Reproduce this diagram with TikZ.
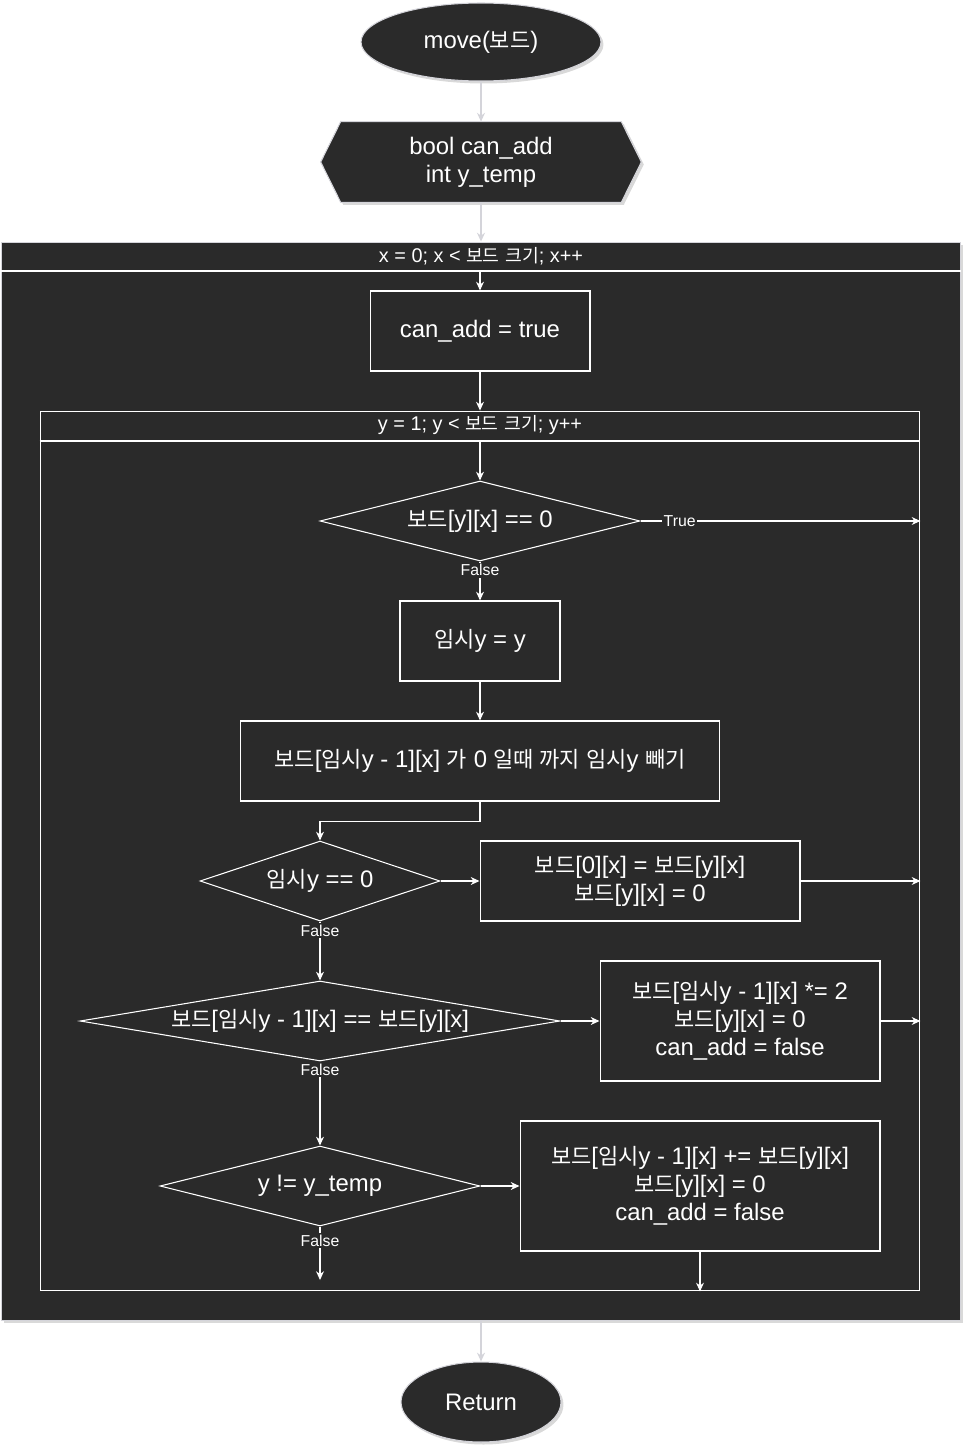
\documentclass[tikz,border=0pt]{standalone}
\usepackage{fontspec}
\setmainfont{Liberation Sans}
\newfontfamily\kr[Scale=0.92]{Noto Sans CJK KR}
\usetikzlibrary{shapes.geometric, arrows.meta, backgrounds, shadows}

\definecolor{boxfill}{HTML}{2A2A2A}
\definecolor{rim}{HTML}{D4D4DA}

\newcommand{\brd}{{\kr 보드}}
\newcommand{\ims}{{\kr 임시}}

\tikzset{
    base/.style={fill=boxfill, text=white, inner sep=0pt, align=center,
        font=\fontsize{13.6}{15.9}\selectfont},
    shade/.style={drop shadow={shadow xshift=.05cm, shadow yshift=-.05cm, opacity=.3}},
    terminal/.style={base, ellipse, draw=rim, line width=.6pt, shade},
    process/.style={base, rectangle, draw=white, line width=.6pt},
    decision/.style={base, diamond, draw=white, line width=.6pt},
    loopbox/.style={rectangle, draw=white, line width=.6pt, fill=boxfill},
    head/.style={text=white, inner sep=0pt, font=\fontsize{11.3}{13}\selectfont},
    flag/.style={fill=boxfill, text=white, inner sep=1pt, font=\fontsize{9}{10}\selectfont},
    arr/.style={draw=white, line width=.6pt, -{Stealth[length=5pt, width=4.5pt]}},
    outarr/.style={draw=rim, line width=.9pt, -{Stealth[length=5pt, width=4.5pt]}},
}

\begin{document}
\begin{tikzpicture}[x=.02cm, y=-.02cm]
    \useasboundingbox (0,0) rectangle (972,1453);

    % start and declarations
    \node[terminal, minimum width=4.8cm, minimum height=1.56cm] (start) at (481,42) {move(\brd)};
    \node[base, fill=none, minimum width=6.4cm, minimum height=1.6cm] (vars) at (481,162) {bool can\_add\\int y\_temp};
    \begin{scope}[on background layer]
        \filldraw[fill=boxfill, draw=rim, line width=.6pt, shade] (vars.west) -- ([xshift=.4cm]vars.north west) -- ([xshift=-.4cm]vars.north east)
            -- (vars.east) -- ([xshift=-.4cm]vars.south east) -- ([xshift=.4cm]vars.south west) -- cycle;
    \end{scope}

    % outer loop over x
    \node[loopbox, draw=rim, shade, minimum width=19.2cm, minimum height=21.58cm] (xloop) at (481,781.5) {};
    \node[head] (xhead) at (481,256) {x = 0; x < \brd{} {\kr 크기}; x++};
    \coordinate (xline) at (480,271);
    \draw[white, line width=.6pt] (xloop.west |- xline) -- (xloop.east |- xline);

    \node[process, minimum width=4.4cm, minimum height=1.6cm] (canadd) at (480,331) {can\_add = true};

    % inner loop over y
    \node[loopbox, minimum width=17.6cm, minimum height=17.6cm] (yloop) at (480,851) {};
    \node[head] (yhead) at (480,425) {y = 1; y < \brd{} {\kr 크기}; y++};
    \coordinate (yline) at (480,441);
    \draw[white, line width=.6pt] (yloop.west |- yline) -- (yloop.east |- yline);

    \node[decision, aspect=4, minimum width=6.4cm, minimum height=1.6cm] (chk) at (480,521) {\brd[y][x] == 0};
    \node[process, minimum width=3.2cm, minimum height=1.6cm] (tmpy) at (480,641) {\ims y = y};
    \node[process, minimum width=9.6cm, minimum height=1.6cm] (dec) at (480,761)
        {\brd[\ims y - 1][x] {\kr 가} 0 {\kr 일때 까지} \ims y {\kr 빼기}};
    \node[decision, aspect=3, minimum width=4.8cm, minimum height=1.6cm] (zero) at (320,881) {\ims y == 0};
    \node[process, minimum width=6.4cm, minimum height=1.6cm] (top) at (640,881) {\brd[0][x] = \brd[y][x]\\\brd[y][x] = 0};
    \node[decision, aspect=6, minimum width=9.6cm, minimum height=1.6cm] (same) at (320,1021) {\brd[\ims y - 1][x] == \brd[y][x]};
    \node[process, minimum width=5.6cm, minimum height=2.4cm] (merge) at (740,1021)
        {\brd[\ims y - 1][x] *= 2\\\brd[y][x] = 0\\can\_add = false};
    \node[decision, aspect=4, minimum width=6.4cm, minimum height=1.6cm] (moved) at (320,1186) {y != y\_temp};
    \node[process, minimum width=7.2cm, minimum height=2.6cm] (shift) at (700,1186)
        {\brd[\ims y - 1][x] += \brd[y][x]\\\brd[y][x] = 0\\can\_add = false};
    \coordinate (mend) at (320,1280);

    \node[terminal, minimum width=3.2cm, minimum height=1.6cm] (ret) at (481,1402) {Return};

    % connectors
    \draw[outarr] (start) -- (vars);
    \draw[outarr] (vars) -- (xloop.north);
    \draw[arr] (xline) -- (canadd);
    \draw[arr] (canadd) -- (yloop.north);
    \draw[arr] (yline) -- (chk);
    \draw[arr] (chk.east) -- node[flag, pos=.14] {True} (chk -| yloop.east);
    \draw[arr] (chk) -- node[flag, pos=.22] {False} (tmpy);
    \draw[arr] (tmpy) -- (dec);
    \draw[arr] (dec.south) -- ++(0,20) -| (zero.north);
    \draw[arr] (zero) -- (top);
    \draw[arr] (top.east) -- (top -| yloop.east);
    \draw[arr] (zero) -- node[flag, pos=.15] {False} (same);
    \draw[arr] (same) -- (merge);
    \draw[arr] (merge.east) -- (merge -| yloop.east);
    \draw[arr] (same) -- node[flag, pos=.1] {False} (moved);
    \draw[arr] (moved) -- (shift);
    \draw[arr] (moved) -- node[flag, pos=.26] {False} (mend);
    \draw[arr] (shift.south) -- (shift |- yloop.south);
    \draw[outarr] (xloop.south) -- (ret);
\end{tikzpicture}
\end{document}
